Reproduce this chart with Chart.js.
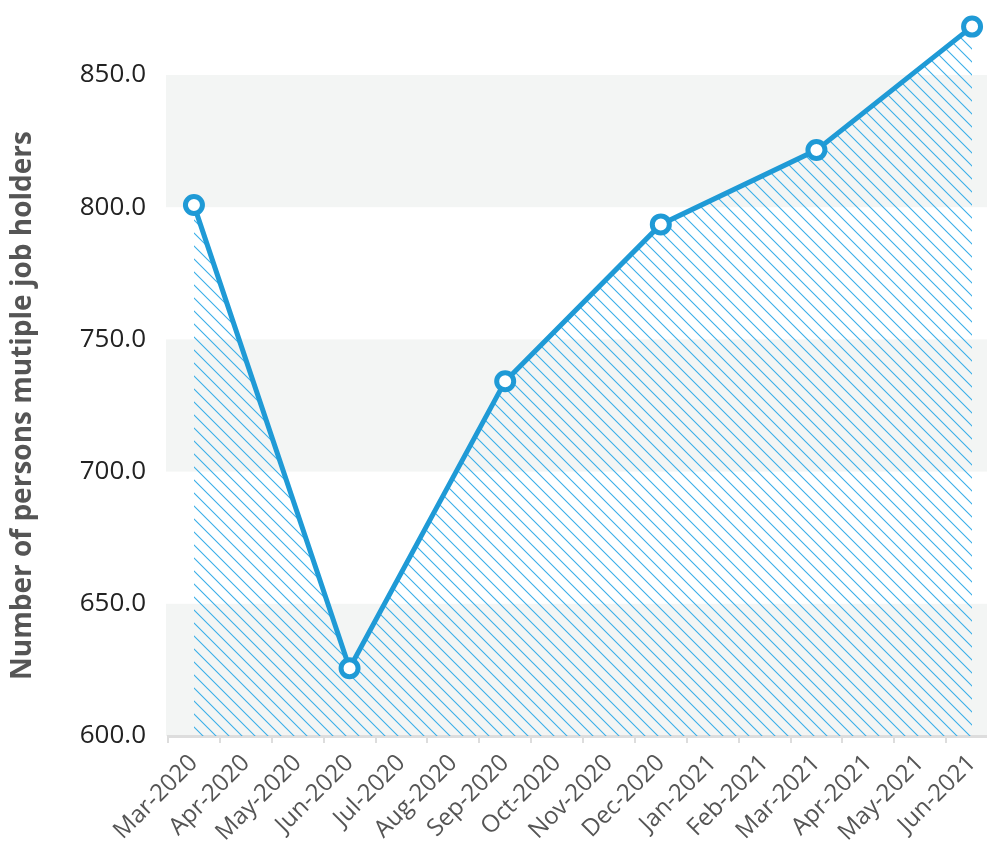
<!DOCTYPE html>
<html>
<head>
<meta charset="utf-8">
<script src="https://cdn.jsdelivr.net/npm/chart.js@4.4.1/dist/chart.umd.min.js"></script>
<style>
  html, body { margin: 0; padding: 0; overflow: hidden; background: #ffffff; }
  #wrap { position: absolute; left: 0; top: 0; width: 987px; height: 850px; }
  #chart { display: block; }
</style>
</head>
<body>
<div id="wrap"><canvas id="chart"></canvas></div>
<script>
// ---- data ----
const categories = ['Mar-2020','Apr-2020','May-2020','Jun-2020','Jul-2020','Aug-2020','Sep-2020','Oct-2020','Nov-2020','Dec-2020','Jan-2021','Feb-2021','Mar-2021','Apr-2021','May-2021','Jun-2021'];
const holders = [800.8, null, null, 625.6, null, null, 734.2, null, null, 793.5, null, null, 821.6, null, null, 868.3];
const yTickValues = [600, 650, 700, 750, 800, 850];
const shadedBands = [[600, 650], [700, 750], [800, 850]];
const yTitle = 'Number of persons mutiple job holders';

// ---- hatch pattern ----
function makeHatch(color) {
  const s = 13;
  const c = document.createElement('canvas');
  c.width = s; c.height = s;
  const g = c.getContext('2d');
  g.strokeStyle = color;
  g.lineWidth = 1.1;
  g.beginPath();
  g.moveTo(0, 0); g.lineTo(s, s);
  g.moveTo(-2, s - 2); g.lineTo(2, s + 2);
  g.moveTo(s - 2, -2); g.lineTo(s + 2, 2);
  g.stroke();
  return g.createPattern(c, 'repeat');
}

// plot area continues past the right edge of the picture (as in the reference)
const PLOT_RIGHT = 998;

const bandPlugin = {
  id: 'bands',
  afterLayout(chart) {
    const x = chart.scales.x;
    x.right = PLOT_RIGHT;
    x.width = PLOT_RIGHT - x.left;
    chart.chartArea.right = PLOT_RIGHT;
    chart.chartArea.width = PLOT_RIGHT - chart.chartArea.left;
    x.configure();
  },
  beforeDraw(chart) {
    const y = chart.scales.y;
    const ctx = chart.ctx;
    const left = chart.chartArea.left - 2;
    ctx.save();
    ctx.fillStyle = '#f3f5f4';
    shadedBands.forEach(([a, b]) => {
      const top = y.getPixelForValue(b);
      const bot = y.getPixelForValue(a);
      ctx.fillRect(left, top, chart.width - left, bot - top);
    });
    ctx.restore();
  },
  beforeDatasetsDraw(chart) {
    chart.$savedTop = chart.chartArea.top;
    chart.chartArea.top = 0;
  },
  afterDatasetsDraw(chart) {
    chart.chartArea.top = chart.$savedTop;
  }
};

const tickFontY = { family: '"Open Sans", sans-serif', size: 26 };
const tickFontX = { family: '"Open Sans", sans-serif', size: 24 };

new Chart(document.getElementById('chart'), {
  type: 'line',
  data: {
    labels: categories,
    datasets: [{
      data: holders,
      spanGaps: true,
      borderColor: '#1f9ad6',
      borderWidth: 5,
      backgroundColor: makeHatch('#3aafe8'),
      fill: 'start',
      tension: 0,
      clip: false,
      pointRadius: 8.5,
      pointHoverRadius: 8.5,
      pointBorderWidth: 5,
      pointBackgroundColor: '#ffffff',
      pointBorderColor: '#1f9ad6'
    }]
  },
  options: {
    responsive: true,
    maintainAspectRatio: false,
    devicePixelRatio: 1,
    animation: false,
    events: [],
    layout: { padding: { top: 75, right: 2, left: 0, bottom: 0 } },
    plugins: { legend: { display: false }, tooltip: { enabled: false } },
    scales: {
      x: {
        offset: true,
        grid: { offset: true, drawOnChartArea: false, drawTicks: true, tickLength: 7, color: '#dddddd', lineWidth: 2 },
        border: { display: true, color: '#dddddd', width: 3 },
        ticks: {
          autoSkip: false, minRotation: 45, maxRotation: 45,
          color: '#555555', font: tickFontX, padding: 6
        },
        afterFit(scale) { scale.height = 114; }
      },
      y: {
        min: 600, max: 850,
        grid: { display: false, drawTicks: false },
        border: { display: false },
        afterBuildTicks(scale) { scale.ticks = yTickValues.map(v => ({ value: v })); },
        ticks: {
          color: '#222222', font: tickFontY, padding: 22,
          callback: v => Number(v).toFixed(1)
        },
        title: {
          display: true, text: yTitle, color: '#555555',
          font: { family: '"Open Sans", sans-serif', size: 28, weight: 'bold' },
          padding: { top: 6, bottom: 0 }
        },
        afterFit(scale) { scale.width = 168; }
      }
    }
  },
  plugins: [bandPlugin]
});
</script>
</body>
</html>
